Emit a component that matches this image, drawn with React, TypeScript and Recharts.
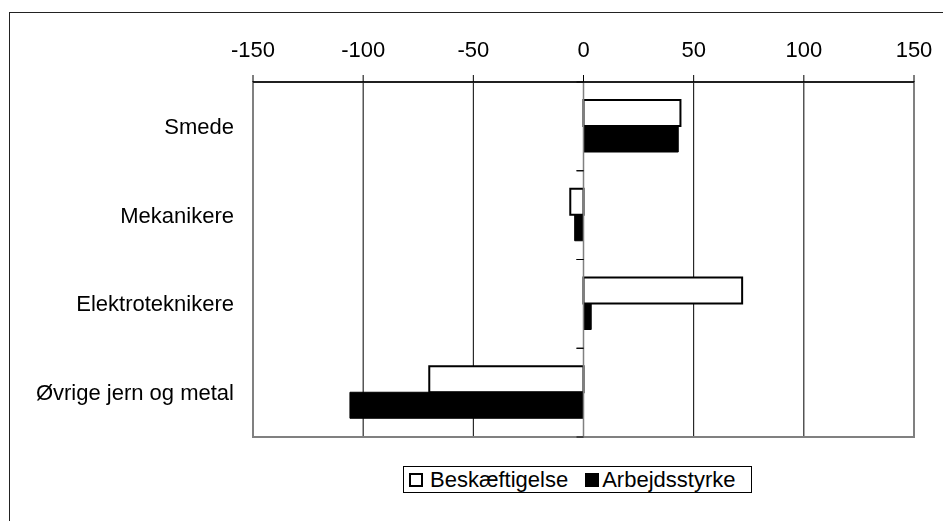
import { BarChart, Bar, XAxis, YAxis, CartesianGrid, ReferenceLine, ReferenceArea } from "recharts";

// categories and series
const categories = ["Smede", "Mekanikere", "Elektroteknikere", "Øvrige jern og metal"];
const beskaeftigelse = [44, -6, 72, -70];
const arbejdsstyrke = [43, -4, 3.5, -106];
const xTicks = [-150, -100, -50, 0, 50, 100, 150];
const gridTicks = [-100, -50, 50, 100];
const seriesNames = ["Beskæftigelse", "Arbejdsstyrke"];

const data = categories.map((name, i) => ({
  name,
  b: beskaeftigelse[i],
  a: arbejdsstyrke[i],
}));

const X_MIN = -150;
const X_MAX = 150;
const W = 927;
const H = 505;
const LEFT = 245;
const TOP = 74;
const RIGHT = 21;
const BOTTOM = 76;
const PLOT_W = W - LEFT - RIGHT;
const PLOT_H = H - TOP - BOTTOM;
const BAND = PLOT_H / categories.length;
const ZERO_X = LEFT + PLOT_W / 2;
const FONT = '"Liberation Sans", Arial, sans-serif';
const FS = 22;

function CatTick(props: any) {
  const { y, payload } = props;
  return (
    <g>
      <text
        x={LEFT - 19}
        y={y}
        textAnchor="end"
        dominantBaseline="central"
        fontSize={FS}
        fontFamily={FONT}
        fill="#000"
      >
        {payload.value}
      </text>
      <line x1={ZERO_X - 7} x2={ZERO_X} y1={y - BAND / 2} y2={y - BAND / 2} stroke="#000" strokeWidth={1} />
      <line x1={ZERO_X - 7} x2={ZERO_X} y1={y + BAND / 2} y2={y + BAND / 2} stroke="#000" strokeWidth={1} />
    </g>
  );
}

function LegendBox() {
  return (
    <div
      style={{
        position: "absolute",
        left: 395,
        top: 458,
        width: 349,
        height: 27,
        boxSizing: "border-box",
        border: "1px solid #000",
        display: "flex",
        alignItems: "center",
        justifyContent: "flex-start",
        paddingLeft: 5,
        fontFamily: FONT,
        fontSize: FS,
        gap: 17,
        background: "#fff",
        whiteSpace: "nowrap",
      }}
    >
      {seriesNames.map((n, i) => (
        <span key={n} style={{ display: "flex", alignItems: "center" }}>
          <span
            style={{
              display: "inline-block",
              width: 10,
              height: 10,
              border: "2px solid #000",
              background: i === 0 ? "#fff" : "#000",
              marginRight: i === 0 ? 7 : 3,
            }}
          />
          {n}
        </span>
      ))}
    </div>
  );
}

export default function App() {
  return (
    <div style={{ position: "relative", width: W, height: H, overflow: "hidden", background: "#fff" }}>
      <div
        style={{
          position: "fixed",
          left: 9,
          top: 12,
          width: 2000,
          height: 2000,
          borderLeft: "1.5px solid #222",
          borderTop: "1.5px solid #222",
        }}
      />
      <BarChart
        width={W}
        height={H}
        data={data}
        layout="vertical"
        margin={{ top: TOP - 30, right: RIGHT, bottom: BOTTOM, left: 0 }}
        barSize={26}
        barGap={0}
        style={{ position: "absolute", left: 0, top: 0 }}
      >
        <CartesianGrid
          vertical
          horizontal={false}
          stroke="#000"
          strokeWidth={1}
          verticalCoordinatesGenerator={({ offset }: any) =>
            gridTicks.map((v) => offset.left + ((v - X_MIN) / (X_MAX - X_MIN)) * offset.width)
          }
        />
        <ReferenceArea x1={X_MIN} x2={X_MAX} fill="none" stroke="#808080" strokeWidth={2} fillOpacity={0} />
        <XAxis
          type="number"
          orientation="top"
          domain={[X_MIN, X_MAX]}
          ticks={xTicks}
          interval={0}
          height={30}
          tickSize={7}
          tickMargin={18}
          axisLine={{ stroke: "#000", strokeWidth: 1.5 }}
          tickLine={{ stroke: "#000" }}
          tick={{ fill: "#000", fontSize: FS, fontFamily: FONT }}
        />
        <YAxis
          type="category"
          dataKey="name"
          width={LEFT}
          axisLine={false}
          tickLine={false}
          interval={0}
          tick={<CatTick />}
        />
        <ReferenceLine x={0} stroke="#808080" strokeWidth={1.5} />
        <Bar dataKey="b" name={seriesNames[0]} fill="#fff" stroke="#000" strokeWidth={2} isAnimationActive={false} />
        <Bar dataKey="a" name={seriesNames[1]} fill="#000" stroke="#000" strokeWidth={1} isAnimationActive={false} />
      </BarChart>
      <LegendBox />
    </div>
  );
}
